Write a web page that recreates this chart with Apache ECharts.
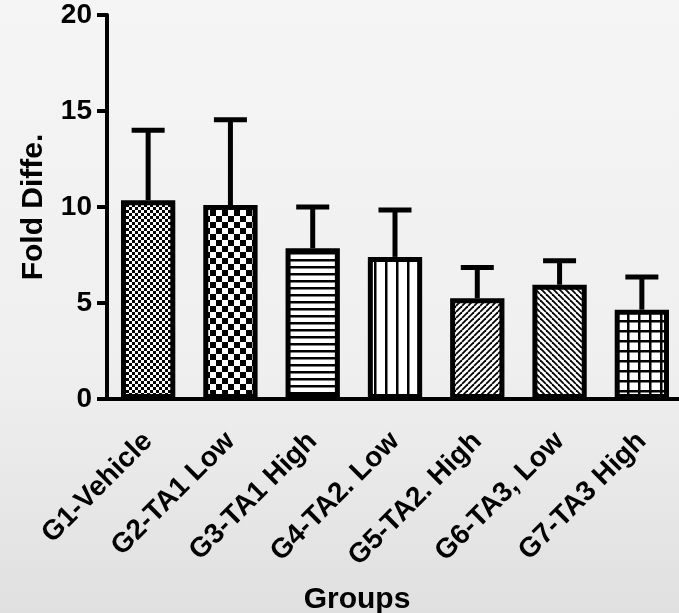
<!DOCTYPE html>
<html>
<head>
<meta charset="utf-8">
<script src="https://cdn.jsdelivr.net/npm/echarts@6/dist/echarts.min.js"></script>
<style>
html,body{margin:0;padding:0;background:#eeeeee;}
#chart{width:679px;height:613px;}
</style>
</head>
<body>
<div id="chart"></div>
<script>
// ---- data ----
var categories = ['G1-Vehicle', 'G2-TA1 Low', 'G3-TA1 High', 'G4-TA2. Low', 'G5-TA2. High', 'G6-TA3, Low', 'G7-TA3 High'];
var means = [10.35, 10.1, 7.85, 7.4, 5.25, 5.95, 4.65];
var errors = [3.65, 4.45, 2.15, 2.45, 1.6, 1.25, 1.7];
var yTicks = [0, 5, 10, 15, 20];

// ---- fill patterns ----
function makeTile(w, h, draw) {
  var c = document.createElement('canvas');
  c.width = w; c.height = h;
  var ctx = c.getContext('2d');
  ctx.fillStyle = '#ffffff';
  ctx.fillRect(0, 0, w, h);
  ctx.fillStyle = '#000000';
  ctx.strokeStyle = '#000000';
  draw(ctx, w, h);
  return c;
}
var tiles = [
  makeTile(6, 6, function (ctx) { ctx.fillRect(0, 0, 3, 3); ctx.fillRect(3, 3, 3, 3); }),
  makeTile(12, 12, function (ctx) { ctx.fillRect(0, 0, 6, 6); ctx.fillRect(6, 6, 6, 6); }),
  makeTile(4, 7, function (ctx) { ctx.fillRect(0, 0, 4, 2.5); }),
  makeTile(11, 4, function (ctx) { ctx.fillRect(0, 0, 2.5, 4); }),
  makeTile(6, 6, function (ctx, w, h) {
    ctx.lineWidth = 1.8;
    for (var x = -w; x <= w; x += w) { ctx.beginPath(); ctx.moveTo(x, h); ctx.lineTo(x + w, 0); ctx.stroke(); }
  }),
  makeTile(6, 6, function (ctx, w, h) {
    ctx.lineWidth = 1.8;
    for (var x = -w; x <= w; x += w) { ctx.beginPath(); ctx.moveTo(x, 0); ctx.lineTo(x + w, h); ctx.stroke(); }
  }),
  makeTile(11, 10, function (ctx) { ctx.fillRect(0, 0, 2.5, 10); ctx.fillRect(0, 0, 11, 2.5); })
];

var barData = means.map(function (v, i) {
  return { value: v, itemStyle: { color: { image: tiles[i], repeat: 'repeat' } } };
});
var errData = means.map(function (v, i) { return [i, v, v + errors[i]]; });

var font = 'Liberation Sans, Arial, sans-serif';
var chart = echarts.init(document.getElementById('chart'));
chart.setOption({
  animation: false,
  backgroundColor: {
    type: 'linear', x: 0, y: 0, x2: 0, y2: 1,
    colorStops: [
      { offset: 0, color: '#f5f5f5' },
      { offset: 0.6, color: '#efefef' },
      { offset: 1, color: '#e0e0e0' }
    ]
  },
  grid: { left: 107, right: -4, top: 15, bottom: 214, containLabel: false, outerBoundsMode: 'none' },
  xAxis: {
    type: 'category',
    data: categories,
    name: 'Groups',
    nameLocation: 'middle',
    nameGap: 186,
    nameTextStyle: { fontFamily: font, fontWeight: 'bold', fontSize: 30, color: '#000', padding: [0, 76, 0, 0] },
    axisLine: { lineStyle: { color: '#000', width: 4 } },
    axisTick: { alignWithLabel: true, length: 12, lineStyle: { color: '#000', width: 4 } },
    axisLabel: {
      rotate: 45, margin: 38, interval: 0,
      fontFamily: font, fontWeight: 'bold', fontSize: 28, color: '#000'
    }
  },
  yAxis: {
    type: 'value', min: 0, max: 20, interval: 5,
    name: 'Fold Diffe.',
    nameLocation: 'middle',
    nameGap: 58,
    nameTextStyle: { fontFamily: font, fontWeight: 'bold', fontSize: 30, color: '#000' },
    axisLine: { show: true, lineStyle: { color: '#000', width: 4 } },
    axisTick: { show: true, length: 10, lineStyle: { color: '#000', width: 4 } },
    splitLine: { show: false },
    axisLabel: {
      margin: 15,
      fontFamily: font, fontWeight: 'bold', fontSize: 28, color: '#000',
      formatter: function (v) { return yTicks.indexOf(v) >= 0 ? String(v) : ''; }
    }
  },
  series: [
    {
      type: 'custom',
      z: 1,
      renderItem: function (params, api) {
        var x = api.value(0);
        var top = api.coord([x, api.value(2)]);
        var base = api.coord([x, api.value(1)]);
        var half = 16.5;
        return {
          type: 'group',
          children: [
            { type: 'line', shape: { x1: top[0], y1: base[1], x2: top[0], y2: top[1] }, style: { stroke: '#000', lineWidth: 5 } },
            { type: 'line', shape: { x1: top[0] - half, y1: top[1], x2: top[0] + half, y2: top[1] }, style: { stroke: '#000', lineWidth: 5 } }
          ]
        };
      },
      encode: { x: 0, y: [1, 2] },
      data: errData
    },
    {
      type: 'bar',
      z: 2,
      barWidth: '66%',
      itemStyle: { borderColor: '#000', borderWidth: 5 },
      data: barData
    }
  ]
});
</script>
</body>
</html>
